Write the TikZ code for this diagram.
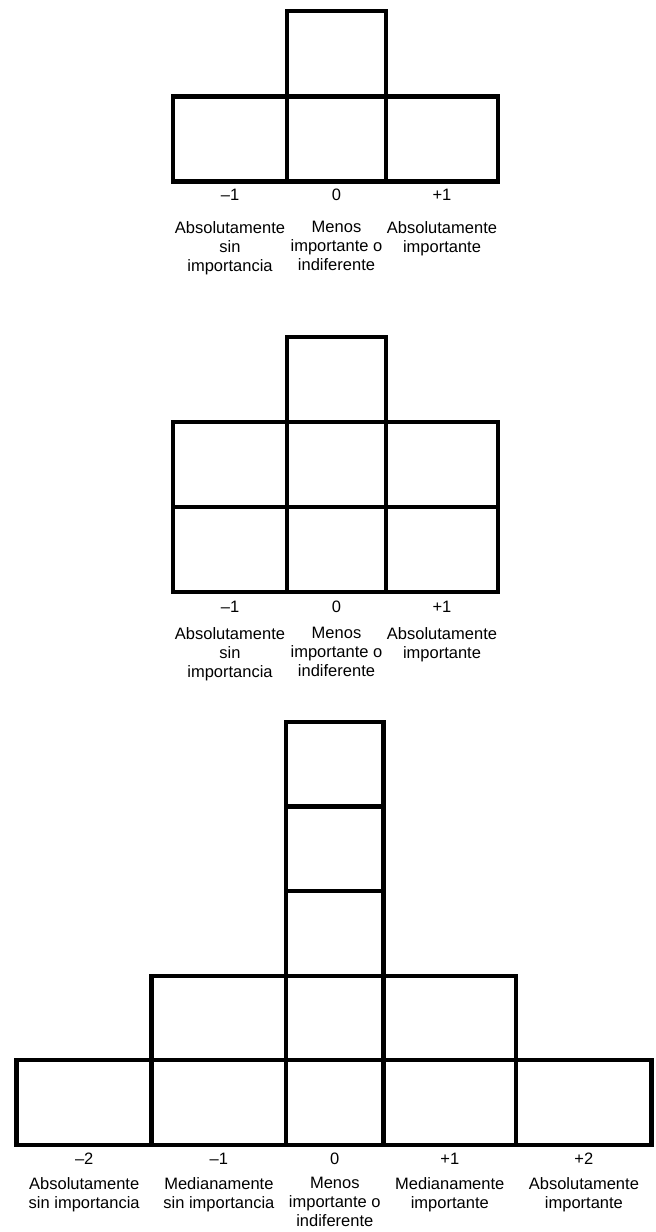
\documentclass[tikz,border=0pt]{standalone}
\usepackage{fontspec}
\setmainfont{Liberation Sans}
\usetikzlibrary{positioning}

\begin{document}
\begin{tikzpicture}[x=0.5pt, y=-0.5pt,
    cellbox/.style={draw, line width=2.4pt, line join=miter},
    scalelbl/.style={inner sep=0pt, font=\fontsize{8.25}{9.5}\selectfont},
    desclbl/.style={inner sep=0pt, anchor=north, align=center, font=\fontsize{8.25}{9.5}\selectfont}]
    \useasboundingbox (0,0) rectangle (656,1232);

    % Scale 1: one row, one extra box
    \draw[cellbox] (287,11) rectangle (386,96.5);
    \foreach \xa/\xb in {173/287, 287/386, 386/498}
        \draw[cellbox] (\xa,96.5) rectangle (\xb,181.5);
    \foreach \v/\xc/\n in {–1/230/a, 0/336.5/b, +1/442/c}
        \node[scalelbl] (one-\n) at (\xc,195) {\v};
    \node[desclbl] (one-da) at (230,221) {Absolutamente\\sin\\importancia};
    \node[desclbl] (one-db) at (336.5,221) {Menos\\importante o\\indiferente};
    \node[desclbl] (one-dc) at (442,221) {Absolutamente\\importante};

    % Scale 2: two rows, one extra box
    \draw[cellbox] (287,337) rectangle (386,422);
    \foreach \ya/\yb in {422/507, 507/592}
        \foreach \xa/\xb in {173/287, 287/386, 386/498}
            \draw[cellbox] (\xa,\ya) rectangle (\xb,\yb);
    \foreach \v/\xc/\n in {–1/230/a, 0/336.5/b, +1/442/c}
        \node[scalelbl] (two-\n) at (\xc,607) {\v};
    \node[desclbl] (two-da) at (230,627) {Absolutamente\\sin\\importancia};
    \node[desclbl] (two-db) at (336.5,627) {Menos\\importante o\\indiferente};
    \node[desclbl] (two-dc) at (442,627) {Absolutamente\\importante};

    % Scale 3: five columns, stepped
    \foreach \ya/\yb in {722/806.7, 806.7/891, 891/976}
        \draw[cellbox] (286,\ya) rectangle (383.5,\yb);
    \foreach \xa/\xb in {151.7/286, 286/383.5, 383.5/516}
        \draw[cellbox] (\xa,976) rectangle (\xb,1060);
    \foreach \xa/\xb in {16.7/151.7, 151.7/286, 286/383.5, 383.5/516, 516/651.7}
        \draw[cellbox] (\xa,1060) rectangle (\xb,1145);
    \foreach \v/\xc/\n in {–2/84.2/a, –1/218.9/b, 0/334.8/c, +1/449.8/d, +2/583.9/e}
        \node[scalelbl] (three-\n) at (\xc,1159) {\v};
    \node[desclbl] (three-da) at (84.2,1177) {Absolutamente\\sin importancia};
    \node[desclbl] (three-db) at (218.9,1177) {Medianamente\\sin importancia};
    \node[desclbl] (three-dc) at (334.8,1177) {Menos\\importante o\\indiferente};
    \node[desclbl] (three-dd) at (449.8,1177) {Medianamente\\importante};
    \node[desclbl] (three-de) at (583.9,1177) {Absolutamente\\importante};
\end{tikzpicture}
\end{document}
